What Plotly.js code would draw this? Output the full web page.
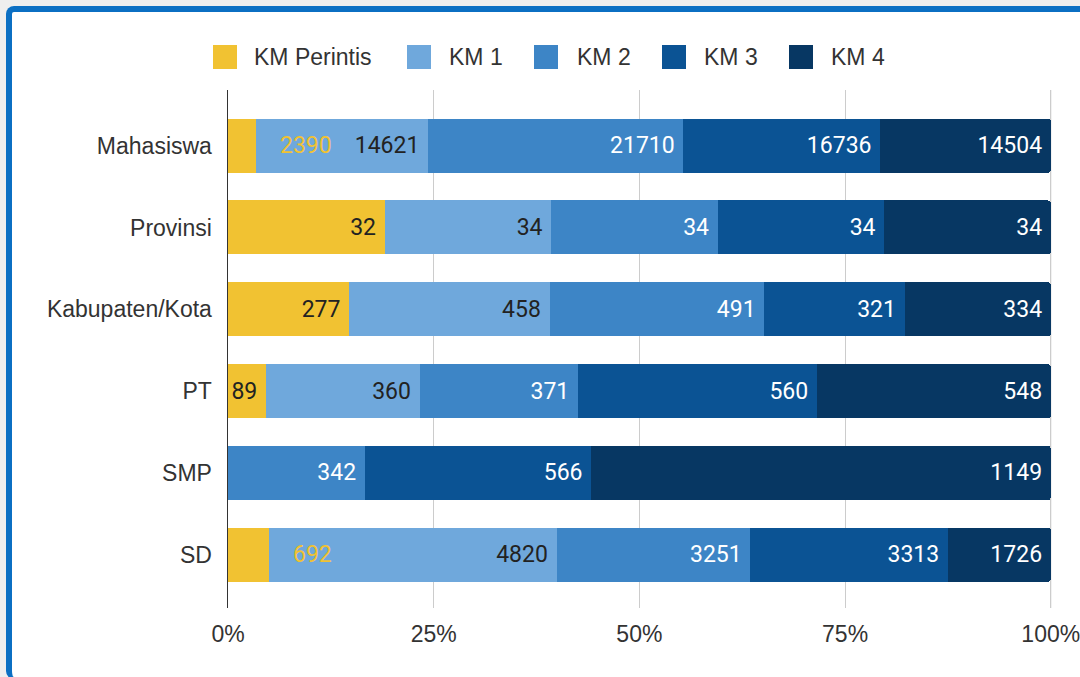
<!DOCTYPE html>
<html>
<head>
<meta charset="utf-8">
<script src="https://cdn.plot.ly/plotly-3.0.1.min.js"></script>
<style>
  html, body { margin: 0; padding: 0; background: #eeeeee; }
  #wrap { position: relative; width: 1080px; height: 677px; overflow: hidden; }
  #chart { position: absolute; left: 0; top: 0; width: 1080px; height: 677px; }
  #frame {
    position: absolute; left: 6px; top: 6px; width: 1200px; height: 665px;
    border: 6px solid #0b6fc3; border-bottom: 2px solid #8fc3ec; border-radius: 8px;
    box-shadow: 0 0 0 12px #eeeeee; pointer-events: none;
  }
</style>
</head>
<body>
<div id="wrap">
  <div id="chart"></div>
  <div id="frame"></div>
</div>
<script>
// ---- data ----
const categories = ['Mahasiswa', 'Provinsi', 'Kabupaten/Kota', 'PT', 'SMP', 'SD'];
const seriesNames = ['KM Perintis', 'KM 1', 'KM 2', 'KM 3', 'KM 4'];
const kmPerintis = [2390, 32, 277, 89, 0, 692];
const km1 = [14621, 34, 458, 360, 0, 4820];
const km2 = [21710, 34, 491, 371, 342, 3251];
const km3 = [16736, 34, 321, 560, 566, 3313];
const km4 = [14504, 34, 334, 548, 1149, 1726];
const perintisLabelOutside = ['Mahasiswa', 'SD'];
const xTickVals = [0, 25, 50, 75, 100];
const xTickText = ['0%', '25%', '50%', '75%', '100%'];

// ---- styles ----
const colors = ['#f1c232', '#6fa8dc', '#3d85c6', '#0b5394', '#073763'];
const labelColors = ['#222222', '#222222', '#ffffff', '#ffffff', '#ffffff'];
const axisFont = { family: 'Liberation Sans, Arial, sans-serif', size: 23, color: '#333333' };
const valueFontFamily = 'Roboto, sans-serif';

const W = 1080, H = 677;
const M = { l: 228, r: 28, t: 90, b: 69 };
const pw = W - M.l - M.r, ph = H - M.t - M.b;
const px2x = px => (px - M.l) / pw;
const py2y = py => (H - M.b - py) / ph;

const allSeries = [kmPerintis, km1, km2, km3, km4];
const totals = categories.map((c, i) => allSeries.reduce((s, arr) => s + arr[i], 0));

const traces = allSeries.map((vals, si) => {
  const text = vals.map((v, i) => {
    if (!v) return '';
    if (si === 0 && perintisLabelOutside.includes(categories[i])) return '';
    return String(v) + '\u00a0';
  });
  return {
    type: 'bar',
    orientation: 'h',
    name: seriesNames[si],
    x: vals,
    y: categories,
    text: text,
    textposition: 'inside',
    insidetextanchor: 'end',
    textangle: 0,
    insidetextfont: { family: valueFontFamily, size: 23, color: labelColors[si] },
    marker: { color: colors[si], line: { width: 0 } },
    hoverinfo: 'skip',
    showlegend: false
  };
});

const annotations = [];
categories.forEach((c, i) => {
  if (perintisLabelOutside.includes(c)) {
    annotations.push({
      x: kmPerintis[i] / totals[i] * 100,
      y: c,
      xref: 'x', yref: 'y',
      text: String(kmPerintis[i]),
      showarrow: false,
      xanchor: 'left', yanchor: 'middle',
      xshift: 22,
      font: { family: valueFontFamily, size: 23, color: colors[0] }
    });
  }
});

// custom legend
const legendPos = [
  { sq: 213, tx: 252 },
  { sq: 407, tx: 447 },
  { sq: 534, tx: 575 },
  { sq: 662, tx: 702 },
  { sq: 789, tx: 829 }
];
const shapes = [];
seriesNames.forEach((n, si) => {
  const p = legendPos[si];
  shapes.push({
    type: 'rect', xref: 'paper', yref: 'paper',
    x0: px2x(p.sq), x1: px2x(p.sq + 24),
    y0: py2y(69), y1: py2y(45),
    fillcolor: colors[si], line: { width: 0 }
  });
  annotations.push({
    xref: 'paper', yref: 'paper',
    x: px2x(p.tx), y: py2y(57),
    text: n, showarrow: false,
    xanchor: 'left', yanchor: 'middle',
    font: axisFont
  });
});
// gridline at the last tick (end of range)
const lastTick = xTickVals[xTickVals.length - 1];
shapes.push({
  type: 'line', xref: 'x', yref: 'paper',
  x0: lastTick, x1: lastTick, y0: 0, y1: 1,
  line: { color: '#cccccc', width: 1 }, layer: 'below'
});

const layout = {
  width: W, height: H,
  margin: M,
  paper_bgcolor: '#ffffff',
  plot_bgcolor: '#ffffff',
  barmode: 'stack',
  barnorm: 'percent',
  bargap: 0.34,
  barcornerradius: 3,
  showlegend: false,
  xaxis: {
    range: [0, 100.15],
    tickmode: 'array',
    tickvals: xTickVals,
    ticktext: xTickText,
    showgrid: true,
    gridcolor: '#cccccc',
    gridwidth: 1,
    zeroline: false,
    showline: false,
    ticks: '',
    tickfont: axisFont,
    ticklabelstandoff: 10,
    ticklabeloverflow: 'allow',
    fixedrange: true
  },
  yaxis: {
    type: 'category',
    categoryorder: 'array',
    categoryarray: categories,
    range: [5.65, -0.68],
    showgrid: false,
    zeroline: false,
    showline: true,
    linecolor: '#333333',
    linewidth: 1.5,
    ticks: '',
    tickfont: axisFont,
    ticklabelstandoff: 10,
    fixedrange: true
  },
  shapes: shapes,
  annotations: annotations
};

Plotly.newPlot('chart', traces, layout, { staticPlot: true, displayModeBar: false });
</script>
</body>
</html>
